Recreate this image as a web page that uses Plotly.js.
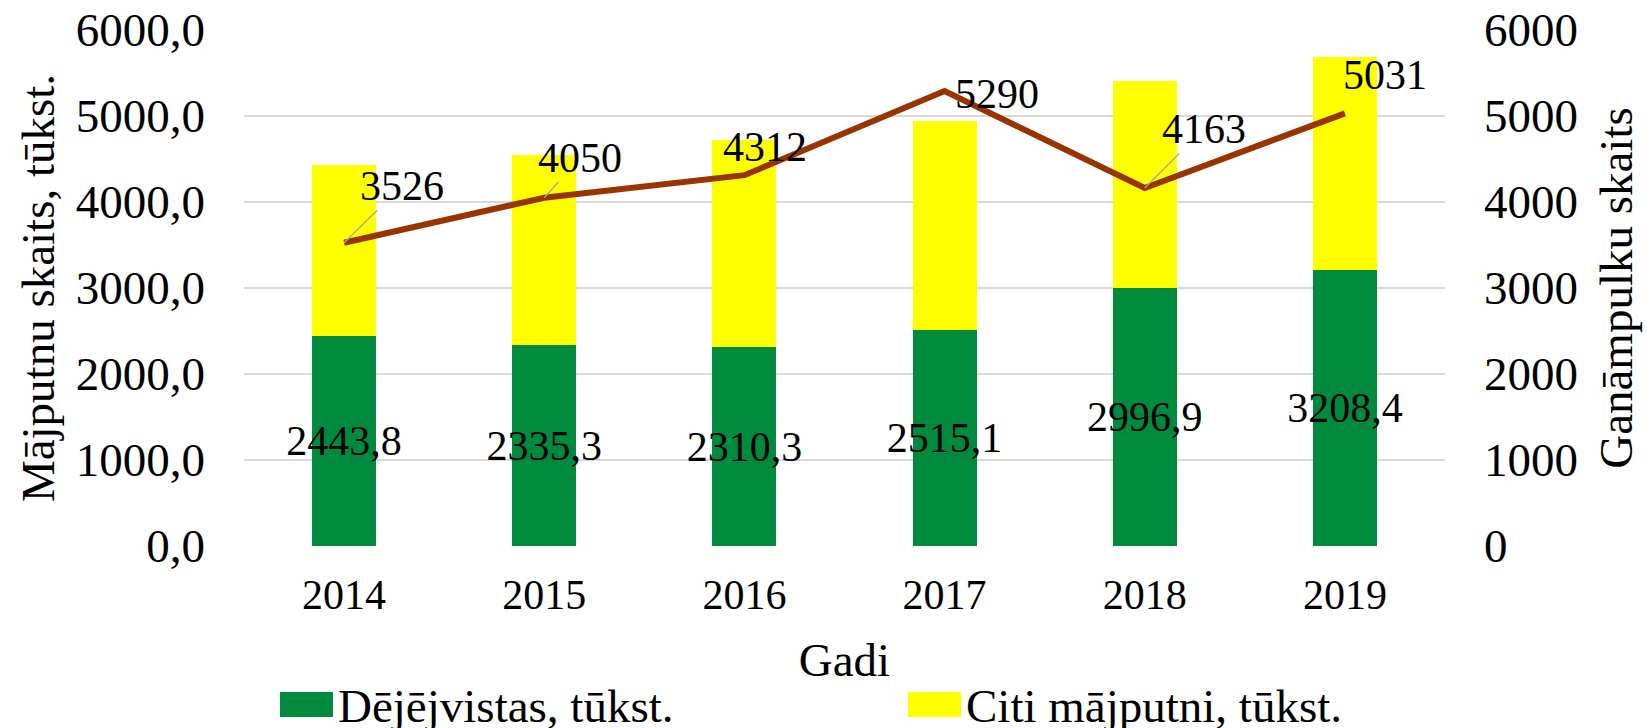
<!DOCTYPE html>
<html>
<head>
<meta charset="utf-8">
<script src="https://cdn.plot.ly/plotly-3.0.1.min.js"></script>
<style>
  html, body { margin: 0; padding: 0; background: #ffffff; }
  #chart { width: 1647px; height: 728px; }
</style>
</head>
<body>
<div id="chart"></div>
<script>
// ---- data ----
const years = ['2014', '2015', '2016', '2017', '2018', '2019'];
const layerHens = [2443.8, 2335.3, 2310.3, 2515.1, 2996.9, 3208.4];
const otherPoultry = [1981, 2209, 2411, 2422, 2407, 2480];
const herdCount = [3526, 4050, 4312, 5290, 4163, 5031];
const seriesNames = ['Dējējvistas, tūkst.', 'Citi mājputni, tūkst.', 'Ganāmpulku skaits'];
const leftTitle = 'Mājputnu skaits, tūkst.';
const rightTitle = 'Ganāmpulku skaits';
const xTitle = 'Gadi';

// ---- style ----
const FONT = 'Liberation Serif, Times New Roman, serif';
const GREEN = '#008a3e';
const YELLOW = '#ffff00';
const LINE = '#993300';
// label offsets (pixels) for line data labels, and whether a leader line shows
const lineLabelOffsets = [[58, -57], [36, -40], [21, -28], [52, 3], [59, -59], [40, -38]];
const lineLabelLeader = [true, true, false, false, true, false];

const traces = [
  {
    type: 'bar', x: years, y: layerHens, name: seriesNames[0],
    marker: { color: GREEN },
    texttemplate: '%{y:.1f}', textposition: 'inside', insidetextanchor: 'middle',
    constraintext: 'none', textangle: 0,
    insidetextfont: { family: FONT, size: 42, color: '#000000' },
    hoverinfo: 'skip', showlegend: false
  },
  {
    type: 'bar', x: years, y: otherPoultry, name: seriesNames[1],
    marker: { color: YELLOW },
    hoverinfo: 'skip', showlegend: false
  },
  {
    type: 'scatter', mode: 'lines', x: years, y: herdCount, name: seriesNames[2],
    yaxis: 'y2', line: { color: LINE, width: 6 },
    hoverinfo: 'skip', showlegend: false
  }
];

const annotations = herdCount.map((v, i) => ({
  x: i, y: v, xref: 'x', yref: 'y2',
  text: String(v),
  showarrow: true, arrowhead: 0, arrowwidth: 1.3,
  arrowcolor: lineLabelLeader[i] ? '#a6a6a6' : 'rgba(0,0,0,0)',
  ax: lineLabelOffsets[i][0], ay: lineLabelOffsets[i][1],
  standoff: 0,
  font: { family: FONT, size: 42, color: '#000000' }
}));

// custom legend (bars)
const legendItems = [
  { name: seriesNames[0], color: GREEN, x0: 280 },
  { name: seriesNames[1], color: YELLOW, x0: 908 }
];
const ml = 244, mr = 202, mt = 30, mb = 182, W = 1647, H = 728;
const pw = W - ml - mr, ph = H - mt - mb;
const px2x = p => (p - ml) / pw;
const px2y = p => (H - mb - p) / ph;
const shapes = [];
legendItems.forEach(it => {
  shapes.push({
    type: 'rect', xref: 'paper', yref: 'paper',
    x0: px2x(it.x0), x1: px2x(it.x0 + 53), y0: px2y(717), y1: px2y(692),
    fillcolor: it.color, line: { width: 0 }
  });
  annotations.push({
    xref: 'paper', yref: 'paper', x: px2x(it.x0 + 56), y: px2y(706),
    xanchor: 'left', yanchor: 'middle', showarrow: false,
    text: it.name, font: { family: FONT, size: 47, color: '#000000' }
  });
});

const layout = {
  width: W, height: H,
  margin: { l: ml, r: mr, t: mt, b: mb, pad: 0 },
  paper_bgcolor: '#ffffff', plot_bgcolor: '#ffffff',
  barmode: 'stack', bargap: 0.68,
  separators: ',.',
  showlegend: false,
  font: { family: FONT, color: '#000000' },
  xaxis: {
    type: 'category', range: [-0.5, 5.5],
    showgrid: false, showline: false, zeroline: false, ticks: '',
    tickfont: { family: FONT, size: 42, color: '#000000' },
    ticklabelstandoff: 20,
    title: { text: xTitle, font: { family: FONT, size: 47, color: '#000000' }, standoff: 26 }
  },
  yaxis: {
    range: [0, 6000], dtick: 1000, tickformat: '.1f',
    showgrid: true, gridcolor: '#d9d9d9', gridwidth: 2,
    zeroline: false, showline: false, ticks: '',
    tickfont: { family: FONT, size: 47, color: '#000000' },
    ticklabelstandoff: 38,
    title: { text: leftTitle, font: { family: FONT, size: 47, color: '#000000' }, standoff: 6 }
  },
  yaxis2: {
    overlaying: 'y', side: 'right',
    range: [0, 6000], dtick: 1000, tickformat: 'd',
    showgrid: false, zeroline: false, showline: false, ticks: '',
    tickfont: { family: FONT, size: 47, color: '#000000' },
    ticklabelstandoff: 38,
    title: { text: rightTitle, font: { family: FONT, size: 47, color: '#000000' }, standoff: 22 }
  },
  annotations: annotations,
  shapes: shapes
};

Plotly.newPlot('chart', traces, layout, { staticPlot: true, displayModeBar: false });
</script>
</body>
</html>
